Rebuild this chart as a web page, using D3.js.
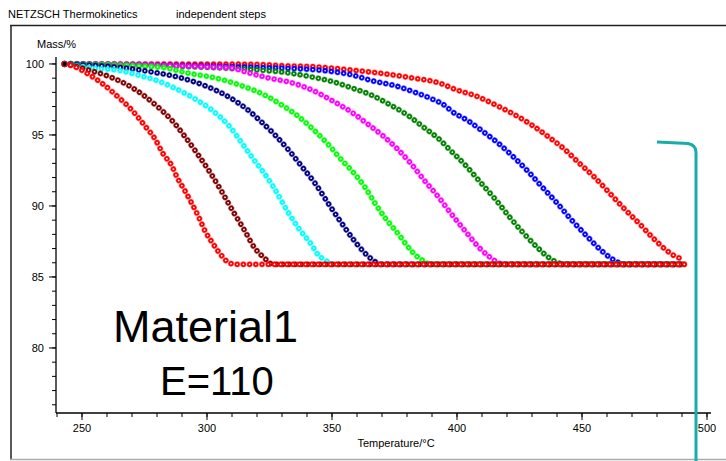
<!DOCTYPE html>
<html>
<head>
<meta charset="utf-8">
<script src="https://cdn.jsdelivr.net/npm/d3@7"></script>
<style>
  body { margin: 0; background: #fff; }
  svg { display: block; font-family: "Liberation Sans", Arial, sans-serif; }
</style>
</head>
<body>
<svg width="726" height="461"></svg>
<script>
// curves: [temperature, mass]
var curve1 = [[243,100],[245.2,99.93],[251.9,99.35],[258.5,98.57],[264.3,97.7],[269.9,96.76],[275.2,95.63],[279.2,94.72],[282.5,93.66],[285.9,92.84],[288.1,91.99],[291.2,91.06],[294.1,90.12],[296.8,89.18],[299.2,88.24],[302.5,87.32],[305.6,86.55],[309.2,85.96],[311.9,85.89],[491,85.89]];
var curve2 = [[243,100],[245.2,99.93],[252.5,99.58],[260.3,99.15],[267.5,98.59],[274.1,97.86],[280.5,96.95],[285.9,96.04],[291.2,94.88],[296.3,93.64],[301.2,92.37],[305.5,91.13],[310.1,89.72],[314.9,88.31],[319,87.06],[322.8,86.36],[326.5,85.89],[491,85.89]];
var curve3 = [[243,100],[255.2,99.7],[265.9,99.51],[273.2,99.18],[280.5,98.8],[287.2,98.29],[294.3,97.63],[301.9,96.76],[308.5,95.7],[314.5,94.3],[318.5,93.31],[321.9,92.54],[326.5,91.36],[331.9,89.72],[336.5,88.47],[341.9,87.25],[344.5,86.55],[347.2,86.2],[349.9,85.92],[352,85.89],[491,85.89]];
var curve4 = [[243,100],[267.9,99.7],[278.5,99.42],[289.2,99.04],[299.2,98.47],[308.5,97.7],[317.2,96.64],[321.2,96.01],[327.2,95.0],[333.2,93.82],[338.5,92.65],[343.2,91.6],[348.9,90.07],[353.9,88.78],[358.5,87.65],[363.5,86.62],[367.2,86.08],[369.2,85.89],[491,85.89]];
var curve5 = [[243,100],[281.2,99.77],[292.5,99.35],[303.9,98.99],[314.9,98.4],[322.5,97.86],[329.9,97.11],[336.3,96.34],[342.3,95.42],[348.3,94.37],[353.5,93.31],[358.5,92.37],[363.2,91.32],[367.2,90.19],[371.6,89.08],[376.3,88.08],[381.2,86.95],[384.9,86.32],[387.2,86.08],[389.2,85.89],[491,85.89]];
var curve6 = [[243,100],[308.5,99.74],[317.2,99.35],[325.2,98.99],[333.2,98.71],[341.9,98.17],[350.3,97.39],[357.9,96.6],[363.9,95.82],[370.3,94.95],[375.9,94.06],[381.5,93.0],[386.8,91.83],[392.5,90.65],[397.2,89.56],[403.5,88.19],[408.9,87.06],[412.9,86.43],[417.2,85.96],[419.2,85.89],[491,85.89]];
var curve7 = [[243,100],[319.9,99.58],[330.5,99.42],[341.2,99.11],[350.3,98.75],[358.3,98.29],[365.6,97.82],[372.9,97.16],[380.1,96.41],[386.9,95.51],[393.2,94.65],[396.8,94.01],[402.9,92.96],[408.9,91.76],[415.9,90.35],[420.9,89.25],[426.9,88.03],[432.8,86.97],[436.5,86.39],[441.2,85.96],[443.2,85.89],[491,85.89]];
var curve8 = [[243,100],[337.2,99.65],[347.9,99.51],[357.9,99.23],[366.5,98.8],[375.2,98.47],[383.2,98.0],[389.9,97.54],[395.2,97.07],[397.6,96.71],[404.5,95.99],[410.5,95.23],[416.5,94.42],[422.5,93.47],[428.5,92.42],[434.3,91.29],[439.9,90.23],[445.6,89.06],[451.5,87.96],[457.5,86.9],[461.6,86.32],[463.9,86.08],[466.5,85.89],[491,85.89]];
var curve9 = [[243,100],[317.2,99.98],[330.5,99.88],[343.9,99.79],[357.2,99.58],[369.2,99.35],[381.2,99.04],[393.2,98.64],[399.9,98.17],[407.5,97.75],[414.9,97.16],[422.5,96.48],[429.9,95.7],[436.5,94.88],[442.9,94.01],[448.5,93.08],[454.8,92.06],[460.5,91.01],[466.5,89.88],[472.8,88.78],[478.5,87.73],[484.5,86.78],[488.5,86.36],[490.8,86.27]];

var curves = [curve9, curve8, curve7, curve6, curve5, curve4, curve3, curve2, curve1];
var colors = ["#ff0000", "#0000ff", "#008000", "#ff00ff", "#00ff00", "#000080", "#00ffff", "#800000", "#ff0000"];

var xMajor = [250, 300, 350, 400, 450, 500];
var yMajor = [80, 85, 90, 95, 100];

var svg = d3.select("svg");

// frame
svg.append("line").attr("x1", 10).attr("y1", 25.5).attr("x2", 726).attr("y2", 25.5)
  .attr("stroke", "#222").attr("stroke-width", 1.5);
svg.append("line").attr("x1", 11).attr("y1", 25).attr("x2", 11).attr("y2", 460)
  .attr("stroke", "#222").attr("stroke-width", 1.5);
svg.append("line").attr("x1", 10).attr("y1", 459.5).attr("x2", 726).attr("y2", 459.5)
  .attr("stroke", "#aaa").attr("stroke-width", 1.5);

svg.append("text").attr("x", 8).attr("y", 18).attr("font-size", 11).text("NETZSCH Thermokinetics");
svg.append("text").attr("x", 176).attr("y", 18).attr("font-size", 11).text("independent steps");

var x = d3.scaleLinear().domain([239.6, 501.6]).range([56, 711]);
var y = d3.scaleLinear().domain([75.42, 100.49]).range([413, 57]);

// y axis
var yAxis = svg.append("g").attr("transform", "translate(56,0)");
yAxis.append("line").attr("x1", 0).attr("x2", 0).attr("y1", y.range()[1]).attr("y2", y.range()[0])
  .attr("stroke", "#000").attr("stroke-width", 1.3);
yAxis.selectAll(".minor").data(d3.range(76, 101)).enter().append("line")
  .attr("x1", -4).attr("x2", 0).attr("y1", function(d) {return y(d);}).attr("y2", function(d) {return y(d);})
  .attr("stroke", "#000");
yAxis.selectAll(".major").data(yMajor).enter().append("line")
  .attr("x1", -7).attr("x2", 0).attr("y1", function(d) {return y(d);}).attr("y2", function(d) {return y(d);})
  .attr("stroke", "#000");
yAxis.selectAll("text").data(yMajor).enter().append("text")
  .attr("x", -12).attr("y", function(d) {return y(d) + 4;})
  .attr("text-anchor", "end").attr("font-size", 11).text(function(d) {return d;});
svg.append("text").attr("x", 37).attr("y", 48).attr("font-size", 11).text("Mass/%");

// x axis
var xAxis = svg.append("g").attr("transform", "translate(0,413)");
xAxis.append("line").attr("x1", x.range()[0]).attr("x2", x.range()[1]).attr("y1", 0).attr("y2", 0)
  .attr("stroke", "#000").attr("stroke-width", 1.3);
xAxis.selectAll(".minor").data(d3.range(240, 501, 10)).enter().append("line")
  .attr("x1", function(d) {return x(d);}).attr("x2", function(d) {return x(d);}).attr("y1", 0).attr("y2", 4)
  .attr("stroke", "#000");
xAxis.selectAll(".major").data(xMajor).enter().append("line")
  .attr("x1", function(d) {return x(d);}).attr("x2", function(d) {return x(d);}).attr("y1", 0).attr("y2", 7)
  .attr("stroke", "#000");
xAxis.selectAll("text").data(xMajor).enter().append("text")
  .attr("x", function(d) {return x(d);}).attr("y", 19)
  .attr("text-anchor", "middle").attr("font-size", 11).text(function(d) {return d;});
svg.append("text").attr("x", 396).attr("y", 447).attr("text-anchor", "middle").attr("font-size", 11)
  .text("Temperature/°C");

// curves drawn as dotted lines: coloured dots with a white centre
var line = d3.line()
  .x(function(d) {return x(d[0]);})
  .y(function(d) {return y(d[1]);})
  .curve(d3.curveMonotoneX);

var g = svg.append("g");
curves.forEach(function(c, i) {
  g.append("path").attr("d", line(c)).attr("fill", "none")
    .attr("stroke", colors[i]).attr("stroke-opacity", 0.35).attr("stroke-width", 6.4)
    .attr("stroke-linecap", "round").attr("stroke-dasharray", "0.01 6.2");
  g.append("path").attr("d", line(c)).attr("fill", "none")
    .attr("stroke", colors[i]).attr("stroke-width", 5.2)
    .attr("stroke-linecap", "round").attr("stroke-dasharray", "0.01 6.2");
  g.append("path").attr("d", line(c)).attr("fill", "none")
    .attr("stroke", "#fff").attr("stroke-width", 1.7)
    .attr("stroke-linecap", "round").attr("stroke-dasharray", "0.01 6.2");
});
svg.append("circle").attr("cx", x(243)).attr("cy", y(100)).attr("r", 2).attr("fill", "#000");

// annotations
svg.append("text").attr("x", 113).attr("y", 342).attr("font-size", 45).text("Material1");
svg.append("text").attr("x", 160).attr("y", 395).attr("font-size", 40).text("E=110");

svg.append("path")
  .attr("d", "M657,142 L688,143.5 Q696,145 696,152 L696,461")
  .attr("fill", "none").attr("stroke", "#17aea8").attr("stroke-width", 3);
</script>
</body>
</html>
